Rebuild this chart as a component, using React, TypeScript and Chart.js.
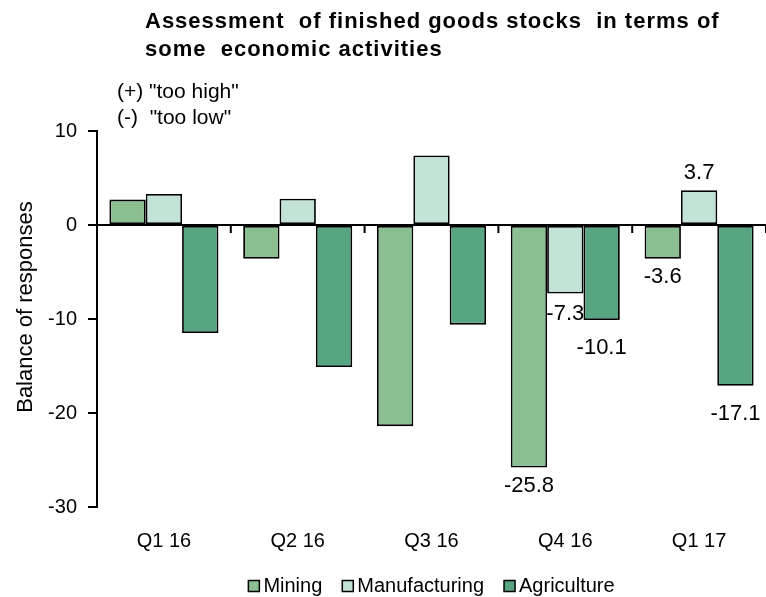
import React, { useEffect, useRef } from "react";
import { Chart, registerables } from "chart.js";

Chart.register(...registerables);

const categories = ["Q1 16", "Q2 16", "Q3 16", "Q4 16", "Q1 17"];
const miningValues = [2.7, -3.6, -21.4, -25.8, -3.6];
const manufacturingValues = [3.3, 2.8, 7.4, -7.3, 3.7];
const agricultureValues = [-11.5, -15.1, -10.6, -10.1, -17.1];
const seriesNames = ["Mining", "Manufacturing", "Agriculture"];
const seriesColors = ["#8BBE90", "#C2E3D6", "#57A581"];
const labeledCategories = ["Q4 16", "Q1 17"];
const yTickValues = [-30, -20, -10, 0, 10];
const titleLines = ["Assessment  of finished goods stocks  in terms of", "some  economic activities"];
const noteLines = ['(+) "too high"', '(-)  "too low"'];
const yAxisTitle = "Balance of responses";

const FONT = '"Liberation Sans", Arial, sans-serif';

const textPlugin = {
  id: "texts",
  afterDraw(chart: any) {
    const ctx = chart.ctx;
    ctx.save();
    ctx.fillStyle = "#000";
    ctx.textBaseline = "middle";
    ctx.textAlign = "left";
    ctx.font = `bold 22px ${FONT}`;
    try { (ctx as any).letterSpacing = "1px"; } catch (e) {}
    ctx.fillText(titleLines[0], 145, 22);
    ctx.fillText(titleLines[1], 145, 50);
    try { (ctx as any).letterSpacing = "0px"; } catch (e) {}
    ctx.font = `21px ${FONT}`;
    ctx.fillText(noteLines[0], 117, 92);
    ctx.fillText(noteLines[1], 117, 118);

    // y axis title
    ctx.save();
    ctx.translate(26, 307);
    ctx.rotate(-Math.PI / 2);
    ctx.textAlign = "center";
    ctx.font = `22px ${FONT}`;
    ctx.fillText(yAxisTitle, 0, 0);
    ctx.restore();

    // legend
    ctx.font = `20px ${FONT}`;
    const box = 11;
    const gapBoxText = 4;
    const gapItems = 20;
    const widths = seriesNames.map((n) => ctx.measureText(n).width);
    const total = widths.reduce((a, b) => a + b, 0) + seriesNames.length * (box + gapBoxText) + gapItems * (seriesNames.length - 1);
    const ca = chart.chartArea;
    let x = (ca.left + ca.right) / 2 - total / 2;
    const y = 586;
    seriesNames.forEach((n, i) => {
      ctx.fillStyle = seriesColors[i];
      ctx.fillRect(x, y - box / 2, box, box);
      ctx.strokeStyle = "#000";
      ctx.lineWidth = 1.5;
      ctx.strokeRect(x, y - box / 2, box, box);
      ctx.fillStyle = "#000";
      ctx.fillText(n, x + box + gapBoxText, y);
      x += box + gapBoxText + widths[i] + gapItems;
    });
    ctx.restore();
  },
};

const axisPlugin = {
  id: "zeroAxis",
  afterDatasetsDraw(chart: any) {
    const ctx = chart.ctx;
    const ys = chart.scales.y;
    const xs = chart.scales.x;
    const ca = chart.chartArea;
    const y0 = ys.getPixelForValue(0);
    ctx.save();
    ctx.strokeStyle = "#000";
    ctx.lineWidth = 2;
    ctx.beginPath();
    ctx.moveTo(ca.left - 9, y0);
    ctx.lineTo(ca.right, y0);
    const n = categories.length;
    for (let k = 0; k <= n; k++) {
      const bx = xs.getPixelForValue(k - 0.5);
      ctx.moveTo(bx, y0);
      ctx.lineTo(bx, y0 + 8);
    }
    ctx.stroke();
    ctx.restore();
  },
};

const labelPlugin = {
  id: "barLabels",
  beforeDatasetsDraw(chart: any) {
    const ctx = chart.ctx;
    ctx.save();
    ctx.font = `22px ${FONT}`;
    ctx.fillStyle = "#000";
    ctx.textAlign = "center";
    ctx.textBaseline = "middle";
    chart.data.datasets.forEach((ds: any, i: number) => {
      const meta = chart.getDatasetMeta(i);
      ds.data.forEach((v: number, j: number) => {
        if (!labeledCategories.includes(categories[j])) return;
        const bar = meta.data[j];
        const off = v >= 0 ? -17 : ds.labelOffset;
        ctx.fillText(v.toFixed(1), bar.x, bar.y + off);
      });
    });
    ctx.restore();
  },
};

export default function App() {
  const ref = useRef<HTMLCanvasElement>(null);
  useEffect(() => {
    document.body.style.margin = "0";
    const seriesValues = [miningValues, manufacturingValues, agricultureValues];
    const labelOffsets = [18, 20, 28];
    const chart = new Chart(ref.current as HTMLCanvasElement, {
      type: "bar",
      data: {
        labels: categories,
        datasets: seriesNames.map((name, i) => ({
          label: name,
          data: seriesValues[i],
          backgroundColor: seriesColors[i],
          borderColor: "#000",
          borderWidth: 1.8,
          borderSkipped: false,
          barPercentage: 1,
          categoryPercentage: 0.815,
          labelOffset: labelOffsets[i],
        })) as any,
      },
      options: {
        responsive: false,
        animation: false,
        layout: { padding: { top: 131, right: -3, bottom: 40, left: 0 } },
        plugins: {
          legend: { display: false },
          tooltip: { enabled: false },
        },
        scales: {
          x: {
            grid: { display: false },
            border: { display: false },
            ticks: { color: "#000", font: { family: FONT, size: 20 }, padding: 14, maxRotation: 0 },
            afterFit: (s: any) => { s.height = 50; },
          },
          y: {
            min: -30,
            max: 10,
            afterBuildTicks: (s: any) => { s.ticks = yTickValues.map((v) => ({ value: v })); },
            ticks: { color: "#000", font: { family: FONT, size: 20 }, padding: 11 },
            grid: { drawOnChartArea: false, drawTicks: true, tickLength: 9, tickColor: "#000", lineWidth: 2 },
            border: { display: true, color: "#000", width: 2 },
            afterFit: (s: any) => { s.width = 97; },
          },
        },
      },
      plugins: [labelPlugin, axisPlugin, textPlugin],
    });
    return () => chart.destroy();
  }, []);
  return (
    <div style={{ position: "absolute", left: 0, top: 0, width: 766, height: 597, background: "#fff" }}>
      <canvas ref={ref} width={766} height={597} style={{ width: 766, height: 597, display: "block" }} />
    </div>
  );
}
